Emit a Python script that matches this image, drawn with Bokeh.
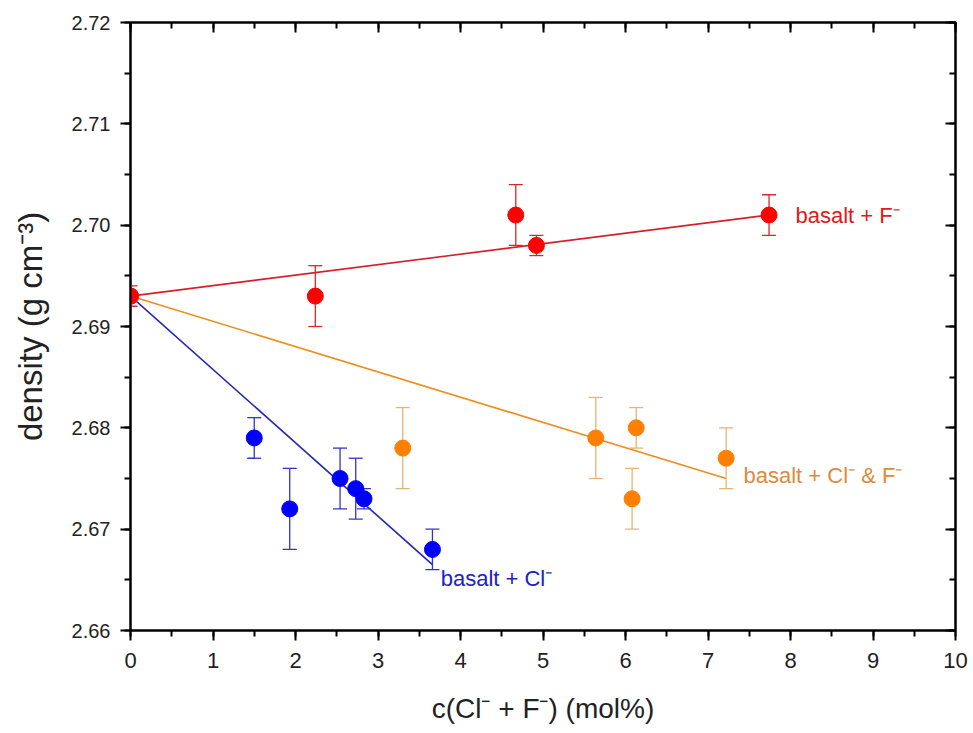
from bokeh.plotting import figure
from bokeh.models import (Range1d, LinearAxis, SingleIntervalTicker, PrintfTickFormatter,
                          CustomJSTickFormatter, Label, ColumnDataSource)
from bokeh.embed import file_html
from bokeh.resources import INLINE

# ---- data ----
f_x = [0.0, 2.24, 4.67, 4.92, 7.74]
f_y = [2.693, 2.693, 2.701, 2.698, 2.701]
f_err = [0.001, 0.003, 0.003, 0.001, 0.002]
f_fit_x = [0.0, 7.74]
f_fit_y = [2.693, 2.701]

cl_x = [0.0, 1.50, 1.93, 2.54, 2.73, 2.83, 3.66]
cl_y = [2.693, 2.679, 2.672, 2.675, 2.674, 2.673, 2.668]
cl_err = [0.0005, 0.002, 0.004, 0.003, 0.003, 0.001, 0.002]
cl_fit_x = [0.0, 3.66]
cl_fit_y = [2.693, 2.6665]

clf_x = [0.0, 3.30, 5.64, 6.08, 6.13, 7.22]
clf_y = [2.693, 2.678, 2.679, 2.673, 2.680, 2.677]
clf_err = [0.0005, 0.004, 0.004, 0.003, 0.002, 0.003]
clf_fit_x = [0.0, 7.22]
clf_fit_y = [2.693, 2.675]

x_start, x_end = 0, 10
y_start, y_end = 2.66, 2.72

FONT = "Liberation Sans"

p = figure(width=973, height=730, output_backend="svg", toolbar_location=None,
           x_range=Range1d(x_start, x_end), y_range=Range1d(y_start, y_end),
           frame_width=825, frame_height=608,
           min_border_left=130, min_border_top=22, min_border_right=18, min_border_bottom=100)
p.xgrid.visible = False
p.ygrid.visible = False
p.outline_line_color = "black"
p.outline_line_width = 2
p.background_fill_color = "white"
p.border_fill_color = "white"

def style_axis(ax, interval, inward=False, labels=True):
    ax.ticker = SingleIntervalTicker(interval=interval, num_minor_ticks=2)
    ax.axis_line_width = 2
    ax.axis_line_color = "black"
    ax.major_tick_line_width = 2
    ax.minor_tick_line_width = 2
    ax.major_tick_line_color = "black"
    ax.minor_tick_line_color = "black"
    if inward:
        ax.major_tick_in, ax.major_tick_out = 10, 0
        ax.minor_tick_in, ax.minor_tick_out = 6, 0
    else:
        ax.major_tick_in, ax.major_tick_out = 0, 10
        ax.minor_tick_in, ax.minor_tick_out = 0, 6
    if not labels:
        ax.formatter = CustomJSTickFormatter(code="return ''")
        ax.major_label_standoff = 0

xa = p.xaxis[0]
style_axis(xa, 1)
xa.major_label_text_font = FONT
xa.major_label_text_font_size = "22px"
xa.major_label_text_color = "#222222"
xa.major_label_standoff = 12
xa.axis_label = "c(Cl\u207b + F\u207b) (mol%)"
xa.axis_label_text_font = FONT
xa.axis_label_text_font_size = "28px"
xa.axis_label_text_font_style = "normal"
xa.axis_label_text_color = "#222222"
xa.axis_label_standoff = 22

ya = p.yaxis[0]
style_axis(ya, 0.01)
ya.formatter = PrintfTickFormatter(format="%.2f")
ya.major_label_text_font = FONT
ya.major_label_text_font_size = "20px"
ya.major_label_text_color = "#222222"
ya.major_label_standoff = 10
ya.axis_label = "density (g cm\u207b\u00b3)"
ya.axis_label_text_font = FONT
ya.axis_label_text_font_size = "33px"
ya.axis_label_text_font_style = "normal"
ya.axis_label_text_color = "#222222"
ya.axis_label_standoff = 20

top = LinearAxis()
style_axis(top, 1, inward=True, labels=False)
p.add_layout(top, "above")
right = LinearAxis()
style_axis(right, 0.01, inward=True, labels=False)
p.add_layout(right, "right")

def series(xs, ys, errs, fx, fy, pt_color, line_color, err_color):
    src = ColumnDataSource(dict(x=xs, y=ys,
                                up=[a + b for a, b in zip(ys, errs)],
                                lo=[a - b for a, b in zip(ys, errs)]))
    p.line(fx, fy, line_color=line_color, line_width=1.6)
    p.segment(x0="x", y0="lo", x1="x", y1="up", source=src, line_color=err_color, line_width=1.3)
    p.dash(x="x", y="up", source=src, size=14, line_color=err_color, line_width=1.3)
    p.dash(x="x", y="lo", source=src, size=14, line_color=err_color, line_width=1.3)
    p.scatter(x="x", y="y", source=src, size=16, fill_color=pt_color, line_color=pt_color)

series(cl_x, cl_y, cl_err, cl_fit_x, cl_fit_y, "#0000ff", "#2626b0", "#3434c4")
series(clf_x, clf_y, clf_err, clf_fit_x, clf_fit_y, "#ff8000", "#f08c1c", "#e6b573")
series(f_x, f_y, f_err, f_fit_x, f_fit_y, "#ff0000", "#d81e2a", "#d42a2a")

def label(x, y, text, color):
    p.add_layout(Label(x=x, y=y, text=text, text_color=color, text_font=FONT,
                       text_font_size="22px", text_baseline="middle", text_align="left"))

label(8.06, 2.701, "basalt + F\u207b", "#e01818")
label(7.43, 2.6753, "basalt + Cl\u207b & F\u207b", "#de8a3a")
label(3.76, 2.6651, "basalt + Cl\u207b", "#2020c8")

open("out.html", "w").write(file_html(p, INLINE))
